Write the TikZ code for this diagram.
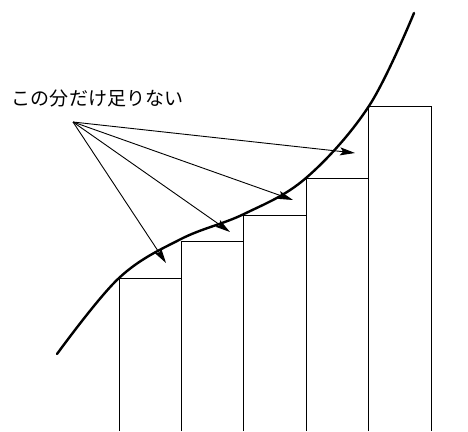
\documentclass[tikz,border=0pt]{standalone}
\usepackage{fontspec}
\newfontfamily\jpfont{Noto Sans CJK JP}
\usetikzlibrary{arrows.meta}
\begin{document}
\begin{tikzpicture}[x=1pt,y=-1pt,
  bar/.style={draw=black,line width=0.9pt},
  curvestyle/.style={line width=2.4pt,line cap=round},
  pointer/.style={line width=0.9pt,-{Stealth[length=15pt,width=8pt,inset=3pt]}},
  lab/.style={font=\jpfont\fontsize{19}{20}\selectfont,inner sep=0pt}]
\useasboundingbox (0,0) rectangle (468,431);
% bars
\draw[bar] (119,431) -- (119,278) -- (181,278) -- (181,431);
\draw[bar] (181,431) -- (181,241) -- (243,241) -- (243,431);
\draw[bar] (243,431) -- (243,215) -- (306,215) -- (306,431);
\draw[bar] (306,431) -- (306,178) -- (368,178) -- (368,431);
\draw[bar] (368,431) -- (368,106) -- (431,106) -- (431,431);
% curve
\draw[curvestyle] plot[smooth,tension=0.6] coordinates {(57,354) (119,278) (181,239) (244,214) (306,178) (369,106) (414,13)};
% label and arrows
\node[lab] (t) at (97.5,98) {この分だけ足りない};
\coordinate (o) at (73,122);
\coordinate (a1) at (166,263);
\coordinate (a2) at (230,232);
\coordinate (a3) at (293,200);
\coordinate (a4) at (355,153);
\draw[pointer] (o) -- (a1);
\draw[pointer] (o) -- (a2);
\draw[pointer] (o) -- (a3);
\draw[pointer] (o) -- (a4);
\end{tikzpicture}
\end{document}
